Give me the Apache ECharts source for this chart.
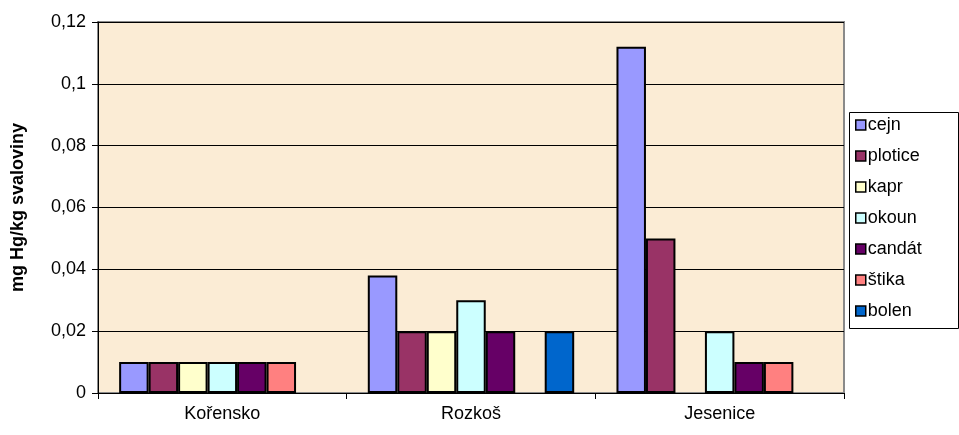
<!DOCTYPE html>
<html>
<head>
<meta charset="utf-8">
<script src="https://cdn.jsdelivr.net/npm/echarts@6/dist/echarts.min.js"></script>
<style>
  html, body { margin: 0; padding: 0; background: #ffffff; }
  #chart { width: 959px; height: 435px; }
</style>
</head>
<body>
<div id="chart"></div>
<script>
// Mercury content in fish muscle by locality (mg Hg/kg)
const categories = ['Kořensko', 'Rozkoš', 'Jesenice'];
const seriesNames = ['cejn', 'plotice', 'kapr', 'okoun', 'candát', 'štika', 'bolen'];
const cejn    = [0.01, 0.038, 0.112];
const plotice = [0.01, 0.02, 0.05];
const kapr    = [0.01, 0.02, null];
const okoun   = [0.01, 0.03, 0.02];
const candat  = [0.01, 0.02, 0.01];
const stika   = [0.01, null, 0.01];
const bolen   = [null, 0.02, null];
const seriesValues = [cejn, plotice, kapr, okoun, candat, stika, bolen];
const yTicks = { min: 0, max: 0.12, step: 0.02 };
const axisTitle = 'mg Hg/kg svaloviny';

const colors = ['#9999ff', '#993366', '#ffffcc', '#ccffff', '#660066', '#ff8080', '#0066cc'];
const font = 'Liberation Sans, Arial, sans-serif';

const chart = echarts.init(document.getElementById('chart'), null, { renderer: 'canvas' });

chart.setOption({
  animation: false,
  color: colors,
  textStyle: { fontFamily: font },
  grid: {
    left: 98, right: 115, top: 22, bottom: 42,
    outerBoundsMode: 'none',
    containLabel: false,
    show: true,
    backgroundColor: '#fbecd5',
    borderColor: '#8a8a8a',
    borderWidth: 2
  },
  // frame around the legend
  graphic: [{
    type: 'rect',
    left: 849, top: 112,
    shape: { width: 109, height: 216 },
    style: { fill: '#ffffff', stroke: '#000000', lineWidth: 1 },
    z: 0
  }],
  legend: {
    orient: 'vertical',
    left: 849,
    top: 112,
    padding: [3, 6, 3, 6],
    itemWidth: 10,
    itemHeight: 10,
    itemGap: 11,
    icon: 'rect',
    itemStyle: { borderColor: '#000000', borderWidth: 1.5 },
    textStyle: { fontSize: 18, color: '#000000', fontFamily: font, padding: [0, 0, 0, -3], lineHeight: 20 },
    data: seriesNames,
    z: 5
  },
  xAxis: {
    type: 'category',
    data: categories,
    axisLine: { show: true, lineStyle: { color: '#000000', width: 1 } },
    axisTick: { show: true, length: 6, lineStyle: { color: '#000000' } },
    axisLabel: { fontSize: 18, color: '#000000', margin: 12, fontFamily: font },
    splitLine: { show: false }
  },
  yAxis: {
    type: 'value',
    min: yTicks.min,
    max: yTicks.max,
    interval: yTicks.step,
    name: axisTitle,
    nameLocation: 'middle',
    nameGap: 71,
    nameRotate: 90,
    nameTextStyle: { fontSize: 18, fontWeight: 'bold', color: '#000000', fontFamily: font },
    axisLine: { show: true, lineStyle: { color: '#000000', width: 1 } },
    axisTick: { show: true, inside: false, length: 6, lineStyle: { color: '#000000' } },
    axisLabel: {
      fontSize: 18, color: '#000000', margin: 12, fontFamily: font,
      formatter: v => String(+v.toFixed(2)).replace('.', ',')
    },
    splitLine: { show: true, lineStyle: { color: '#000000', width: 1 } }
  },
  series: seriesNames.map((name, i) => ({
    name: name,
    type: 'bar',
    data: seriesValues[i],
    barGap: '0%',
    barCategoryGap: '17%',
    itemStyle: { color: colors[i], borderColor: '#000000', borderWidth: 2 }
  }))
});
</script>
</body>
</html>
